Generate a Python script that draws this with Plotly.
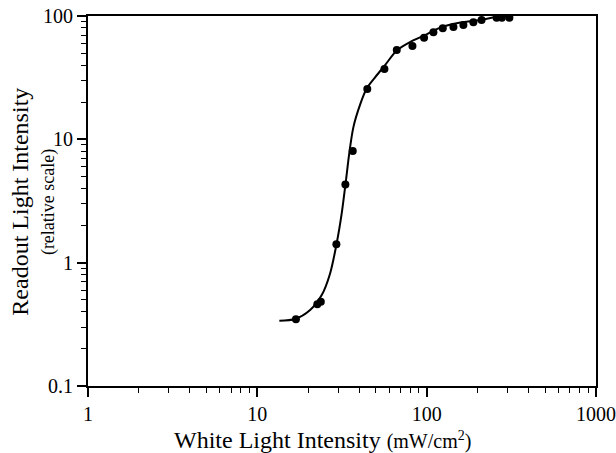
import plotly.graph_objects as go

# Measured data points
point_x = [16.9, 22.6, 23.7, 29.3, 33.1, 36.6, 44.6, 56.3, 66.6, 82.4,
           96.5, 109.6, 124.5, 143.9, 164.8, 188.7, 211, 259, 278, 308]
point_y = [0.347, 0.461, 0.482, 1.41, 4.31, 8.04, 25.6, 37.2, 53.0, 57.1,
           66.7, 73.8, 79.4, 81.5, 84.5, 89.0, 92.8, 96.9, 96.9, 96.9]

# Fitted curve (traced)
curve_x = [13.49, 16.7, 20.5, 24.0, 26.9, 29.4, 31.5, 33.4, 34.9, 36.9, 40.4,
           44.3, 49.6, 56.8, 66.6, 81.7, 97.9, 120, 150.6, 207, 259, 311]
curve_y = [0.338, 0.349, 0.413, 0.546, 0.818, 1.43, 2.51, 4.68, 7.70, 12.5, 19.0,
           25.9, 31.8, 40.0, 52.5, 62.5, 70.0, 80.5, 87.3, 93.0, 98.0, 100]

x_ticks = [1, 10, 100, 1000]
x_labels = ["1", "10", "100", "1000"]
y_ticks = [0.1, 1, 10, 100]
y_labels = ["0.1", "1", "10", "100"]

minor_x = [m * d for d in (1, 10, 100) for m in range(2, 10)]
minor_y = [m * d for d in (0.1, 1, 10) for m in range(2, 10)]

FONT = "Liberation Serif"

fig = go.Figure()
fig.add_trace(go.Scatter(x=curve_x, y=curve_y, mode="lines",
                         line=dict(color="black", width=2, shape="spline", smoothing=0.8),
                         showlegend=False, hoverinfo="skip"))
fig.add_trace(go.Scatter(x=point_x, y=point_y, mode="markers",
                         marker=dict(color="black", size=8),
                         showlegend=False))

axis_common = dict(
    type="log", showgrid=False, zeroline=False,
    showline=True, linecolor="black", linewidth=2, mirror=True,
    ticks="outside", ticklen=9, tickwidth=1.5, tickcolor="black",
    tickfont=dict(family=FONT, size=20, color="black"),
    tickmode="array", ticklabeloverflow="allow",
)

fig.update_xaxes(**axis_common, range=[0, 3], tickvals=x_ticks, ticktext=x_labels,
                 minor=dict(tickmode="array", tickvals=minor_x, ticks="outside",
                            ticklen=5, tickwidth=1, tickcolor="black"))
fig.update_yaxes(**axis_common, range=[-1, 2], tickvals=y_ticks, ticktext=y_labels,
                 minor=dict(tickmode="array", tickvals=minor_y, ticks="outside",
                            ticklen=5, tickwidth=1, tickcolor="black"))

fig.add_annotation(text="White Light Intensity <span style='font-size:20px'>(mW/cm<sup>2</sup>)</span>",
                   xref="paper", yref="paper", x=0.461, y=-0.146,
                   showarrow=False, xanchor="center", yanchor="middle",
                   font=dict(family=FONT, size=24, color="black"))
fig.add_annotation(text="Readout Light Intensity", xref="paper", yref="paper",
                   x=-0.134, y=0.498, textangle=-90, showarrow=False,
                   xanchor="center", yanchor="middle",
                   font=dict(family=FONT, size=24, color="black"))
fig.add_annotation(text="(relative scale)", xref="paper", yref="paper",
                   x=-0.078, y=0.498, textangle=-90, showarrow=False,
                   xanchor="center", yanchor="middle",
                   font=dict(family=FONT, size=18, color="black"))

fig.update_layout(width=616, height=453,
                  margin=dict(l=88, r=20, t=16, b=67, autoexpand=False),
                  plot_bgcolor="white", paper_bgcolor="white")

# remove the default page margin so the 616x453 figure fills the window exactly
fig.write_html("out.html",
               config={"displayModeBar": False},
               post_script="document.body.style.margin='0px';"
                           "document.documentElement.style.overflow='hidden';")
